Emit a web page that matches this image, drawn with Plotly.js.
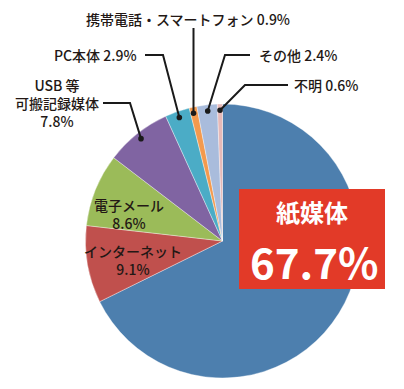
<!DOCTYPE html>
<html>
<head>
<meta charset="utf-8">
<script src="https://cdn.plot.ly/plotly-3.0.1.min.js"></script>
<style>html,body{margin:0;padding:0;background:#fff;}#chart{width:404px;height:389px;}</style>
</head>
<body>
<div id="chart"></div>
<script>
const labels = ['紙媒体','インターネット','電子メール','USB 等可搬記録媒体','PC本体','携帯電話・スマートフォン','その他','不明'];
const values = [67.7, 9.1, 8.6, 7.8, 2.9, 0.9, 2.4, 0.6];
const colors = ['#4d7fae','#c0504d','#9bbb59','#8064a2','#4bacc6','#f39a4e','#a9bcdc','#e6b9b8'];

const W = 404, H = 389;
const cx = 222.5, cy = 241, R = 137;
const FONT = '"Noto Sans CJK JP", "Noto Sans", sans-serif';
const px = x => x / W;
const py = y => 1 - y / H;
const pct = i => values[i].toFixed(1) + '%';

// slice mid angles (clockwise from 12 o'clock), from the data
const total = values.reduce((a, b) => a + b, 0);
const mids = [];
let cum = 0;
values.forEach(v => { mids.push((cum + v / 2) / total * 2 * Math.PI); cum += v; });
const dotAt = i => [cx + 0.955 * R * Math.sin(mids[i]), cy - 0.955 * R * Math.cos(mids[i])];

const trace = {
  type: 'pie',
  labels: labels,
  values: values,
  sort: false,
  direction: 'clockwise',
  rotation: 0,
  textinfo: 'none',
  hoverinfo: 'none',
  marker: { colors: colors, line: { color: 'rgba(255,255,255,0.6)', width: 0.6 } },
  domain: { x: [px(cx - R), px(cx + R)], y: [py(cy + R), py(cy - R)] },
  showlegend: false
};

// leader lines: [slice index, start point, elbow point]
const leaders = [
  [3, [103, 103], [130, 103]],
  [4, [145, 55], [163, 55]],
  [5, [193.5, 28], [193.5, 40]],
  [6, [250, 55], [225, 55]],
  [7, [288, 85], [245, 85]]
];
const shapes = [];
leaders.forEach(([i, a, b]) => {
  const d = dotAt(i);
  const dx = i === 5 ? b[0] : d[0];
  shapes.push({
    type: 'path', xref: 'paper', yref: 'paper',
    path: `M ${px(a[0])} ${py(a[1])} L ${px(b[0])} ${py(b[1])} L ${px(dx)} ${py(d[1])}`,
    line: { color: '#1a1a1a', width: 2 }
  });
  const r = 2.8;
  shapes.push({
    type: 'circle', xref: 'paper', yref: 'paper',
    x0: px(dx - r), x1: px(dx + r), y0: py(d[1] + r), y1: py(d[1] - r),
    fillcolor: '#1a1a1a', line: { color: '#1a1a1a', width: 0 }
  });
});
// red highlight box
shapes.push({
  type: 'rect', xref: 'paper', yref: 'paper',
  x0: px(239), x1: px(385), y0: py(289), y1: py(189),
  fillcolor: '#e23a28', line: { width: 0 }
});

const ann = (text, x, y, xanchor, size, color, weight) => ({
  xref: 'paper', yref: 'paper', x: px(x), y: py(y), xanchor: xanchor, yanchor: 'middle',
  text: text, showarrow: false, align: 'center', borderpad: 0,
  font: { family: FONT, size: size, color: color, weight: weight || 500 }
});

const annotations = [
  ann(labels[5] + ' ' + pct(5), 188, 19, 'center', 14, '#231815'),
  ann(labels[4] + ' ' + pct(4), 138, 55, 'right', 14, '#231815'),
  ann(labels[6] + ' ' + pct(6), 258, 55, 'left', 14, '#231815'),
  ann(labels[7] + ' ' + pct(7), 293, 85, 'left', 14, '#231815'),
  ann('USB 等<br>可搬記録媒体<br>' + pct(3), 57, 103, 'center', 14, '#231815'),
  ann(labels[2] + '<br>' + pct(2), 129, 213.5, 'center', 14, '#231815'),
  ann(labels[1] + '<br>' + pct(1), 133, 259.5, 'center', 14, '#231815'),
  ann(labels[0], 312, 211, 'center', 24, '#ffffff', 700),
  ann(pct(0), 314, 260, 'center', 42, '#ffffff', 700)
];

const layout = {
  width: W, height: H,
  margin: { l: 0, r: 0, t: 0, b: 0 },
  paper_bgcolor: '#ffffff',
  plot_bgcolor: '#ffffff',
  shapes: shapes,
  annotations: annotations,
  showlegend: false
};

Plotly.newPlot('chart', [trace], layout, { staticPlot: true, displayModeBar: false });
</script>
</body>
</html>
